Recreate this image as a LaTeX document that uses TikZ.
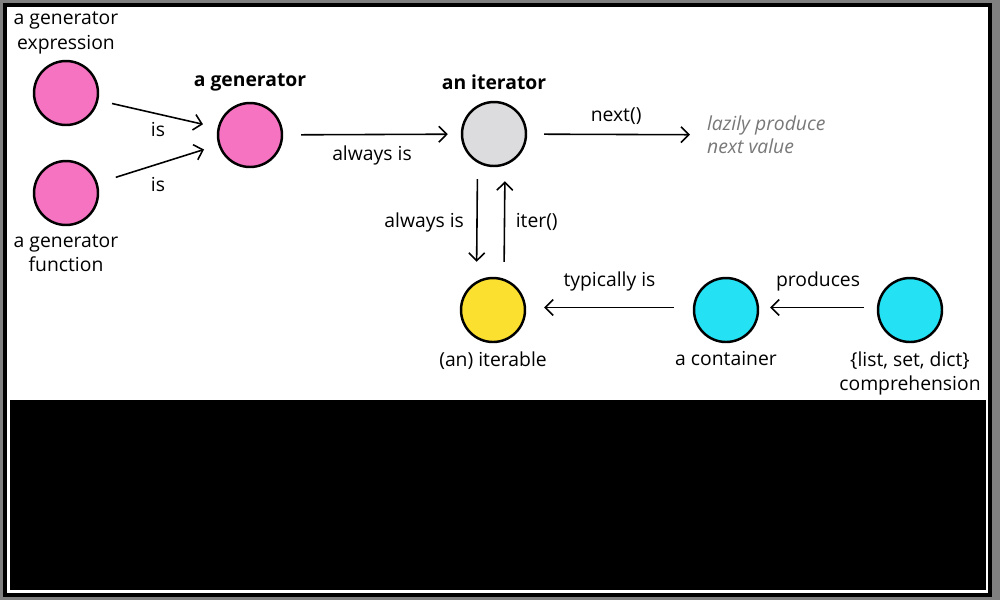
\documentclass[tikz,border=0pt]{standalone}
\usepackage{fontspec}
\setmainfont{Open Sans}
\usetikzlibrary{positioning,arrows.meta}

\definecolor{framegray}{RGB}{128,128,128}
\definecolor{genpink}{RGB}{245,115,192}
\definecolor{itergray}{RGB}{220,220,222}
\definecolor{iteryellow}{RGB}{252,224,48}
\definecolor{contcyan}{RGB}{36,226,244}
\definecolor{notegray}{RGB}{120,120,120}

\tikzset{
	dot/.style={circle, draw=black, line width=1.4pt, minimum size=1.28cm, inner sep=0pt},
	arr/.style={-{Straight Barb[length=4.5pt,width=9pt]}, line width=0.9pt},
	lbl/.style={font=\fontsize{11}{14}\selectfont, align=center, inner sep=1pt},
	boldlbl/.style={lbl, font=\fontsize{11}{14}\selectfont\bfseries},
	note/.style={lbl, align=left, text=notegray, font=\fontsize{11}{13.2}\selectfont\itshape},
}

\begin{document}
\begin{tikzpicture}[x=0.02cm, y=-0.02cm]
		% frame
		\fill[framegray] (0,0) rectangle (1000,600);
		\draw[draw=black, fill=white, line width=0.08cm] (5,5) rectangle (990,595);
		\fill[black] (10,400) rectangle (986,590);

		% circles
		\node[dot, fill=genpink] (genexpr) at (66,93) {};
		\node[dot, fill=genpink] (genfunc) at (66,193) {};
		\node[dot, fill=genpink] (gen) at (250,135) {};
		\node[dot, fill=itergray] (iter) at (494,134) {};
		\node[dot, fill=iteryellow] (itb) at (493,310) {};
		\node[dot, fill=contcyan] (cont) at (726,310) {};
		\node[dot, fill=contcyan] (comp) at (910,310) {};

		% names
		\node[lbl, above=0.08cm of genexpr] (genexprtxt) {a generator\\expression};
		\node[lbl, below=0.12cm of genfunc] (genfunctxt) {a generator\\function};
		\node[boldlbl, above=0.17cm of gen] (gentxt) {a generator};
		\node[boldlbl, above=0.17cm of iter] (itertxt) {an iterator};
		\node[lbl, below=0.12cm of itb] (itbtxt) {(an) iterable};
		\node[lbl, below=0.12cm of cont] (conttxt) {a container};
		\node[lbl, below=0.12cm of comp] (comptxt) {\{list, set, dict\}\\comprehension};
		\node[note, anchor=west] (lazy) at (705,135) {lazily produce\\next value};

		% connectors
		\draw[arr, shorten <=0.28cm, shorten >=0.3cm] (genexpr) -- (gen)
			node[lbl, midway, below=3pt] {is};
		\draw[arr, shorten <=0.38cm, shorten >=0.3cm] (genfunc) -- (gen)
			node[lbl, midway, below=6pt] {is};
		\draw[arr, shorten <=0.36cm, shorten >=0.26cm] (gen) -- (iter)
			node[lbl, midway, below=5pt] {always is};
		\draw[arr, shorten <=0.34cm, shorten >=0.3cm] (iter) -- (lazy)
			node[lbl, midway, above=4pt] {next()};
		\draw[arr, shorten <=0.24cm, shorten >=0.3cm] ([xshift=-0.33cm]iter.south) -- ([xshift=-0.33cm]itb.north)
			node[lbl, midway, left=6pt] {always is};
		\draw[arr, shorten <=0.3cm, shorten >=0.28cm] ([xshift=0.22cm]itb.north) -- ([xshift=0.22cm]iter.south)
			node[lbl, midway, right=5pt] {iter()};
		\draw[arr, shorten <=0.38cm, shorten >=0.36cm] ([yshift=0.05cm]cont.west) -- ([yshift=0.05cm]itb.east)
			node[lbl, midway, above=8pt] {typically is};
		\draw[arr, shorten <=0.26cm, shorten >=0.22cm] ([yshift=0.05cm]comp.west) -- ([yshift=0.05cm]cont.east)
			node[lbl, midway, above=8pt] {produces};
	\end{tikzpicture}
\end{document}
